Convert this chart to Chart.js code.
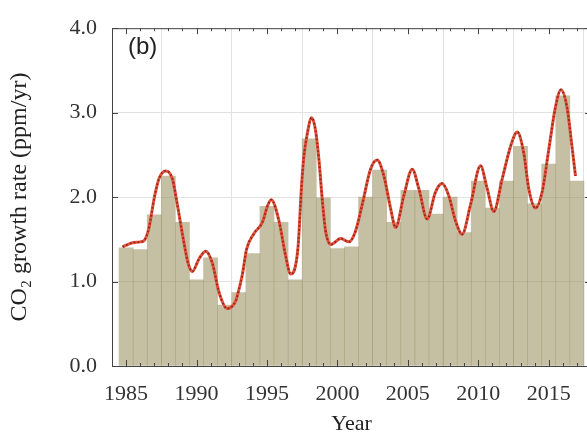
<!DOCTYPE html>
<html>
<head>
<meta charset="utf-8">
<script src="https://cdn.jsdelivr.net/npm/chart.js@4/dist/chart.umd.min.js"></script>
<style>
  body { margin: 0; overflow: hidden; background: #fff; }
  canvas { display: block; }
</style>
</head>
<body>
<canvas id="growth" width="600" height="435"></canvas>
<script>
// annual growth rate (bars)
let years = [1985, 1986, 1987, 1988, 1989, 1990, 1991, 1992, 1993, 1994, 1995, 1996,
    1997, 1998, 1999, 2000, 2001, 2002, 2003, 2004, 2005, 2006, 2007, 2008, 2009,
    2010, 2011, 2012, 2013, 2014, 2015, 2016, 2017];
let annualRate = [1.40, 1.38, 1.79, 2.25, 1.70, 1.02, 1.28, 0.72, 0.87, 1.33, 1.89, 1.70,
    1.02, 2.69, 1.99, 1.39, 1.41, 2.00, 2.32, 1.70, 2.08, 2.08, 1.80, 2.00, 1.58,
    2.19, 1.87, 2.19, 2.60, 1.92, 2.39, 3.20, 2.19];

// smoothed growth rate (curve)
let curveTime = [1984.75, 1985.0, 1985.45, 1986.0, 1986.3, 1986.63, 1987.0, 1987.34, 1987.8,
    1988.28, 1988.64, 1989.0, 1989.4, 1989.7, 1990.18, 1990.65, 1991.12, 1991.6, 1992.18,
    1992.78, 1993.0, 1993.25, 1993.55, 1994.08, 1994.67, 1995.05, 1995.3, 1995.85, 1996.33,
    1996.68, 1997.2, 1997.45, 1997.6, 1997.86, 1998.17, 1998.45, 1998.69, 1998.92, 1999.16,
    1999.55, 2000.23, 2000.82, 2001.29, 2001.76, 2002.35, 2002.82, 2003.3, 2003.77, 2004.13,
    2004.72, 2005.31, 2005.78, 2006.37, 2006.96, 2007.43, 2007.9, 2008.38, 2008.85, 2009.45,
    2010.16, 2010.63, 2011.1, 2011.69, 2012.29, 2012.76, 2013.23, 2013.58, 2014.06, 2014.53,
    2015.0, 2015.47, 2015.87, 2016.3, 2016.65, 2016.9];
let curveRate = [1.41, 1.43, 1.46, 1.47, 1.49, 1.64, 1.99, 2.22, 2.31,
    2.22, 1.91, 1.56, 1.22, 1.12, 1.27, 1.36, 1.22, 0.87, 0.68,
    0.77, 0.90, 1.08, 1.38, 1.57, 1.70, 1.90, 1.97, 1.72, 1.30,
    1.09, 1.40, 2.12, 2.45, 2.75, 2.94, 2.79, 2.44, 1.98, 1.60,
    1.44, 1.51, 1.47, 1.60, 1.91, 2.33, 2.44, 2.25, 1.87, 1.64,
    2.02, 2.33, 2.10, 1.74, 2.06, 2.16, 2.02, 1.72, 1.56, 1.91,
    2.37, 2.10, 1.83, 2.21, 2.60, 2.77, 2.52, 2.10, 1.87, 2.06,
    2.56, 3.06, 3.27, 3.06, 2.60, 2.25];

let yTicks = [0, 1, 2, 3, 4];
let xTicks = [1985, 1990, 1995, 2000, 2005, 2010, 2015];

let barPoints = years.map(function (y, i) { return { x: y, y: annualRate[i] }; });
let curvePoints = curveTime.map(function (t, i) { return { x: t, y: curveRate[i] }; });

let serif = "'Liberation Serif', 'Times New Roman', serif";

// frame, inward tick marks and panel letter
let frame = {
    id: 'frame',
    afterDraw: function (chart) {
        let ctx = chart.ctx;
        let a = chart.chartArea;
        let xs = chart.scales.x;
        let ys = chart.scales.y;
        ctx.save();
        ctx.strokeStyle = '#444';
        ctx.lineWidth = 1;
        ctx.beginPath();
        ctx.moveTo(a.left + 0.5, a.top + 0.5);
        ctx.lineTo(a.right + 0.5, a.top + 0.5);
        ctx.lineTo(a.right + 0.5, a.bottom + 0.5);
        ctx.lineTo(a.left + 0.5, a.bottom + 0.5);
        ctx.closePath();
        for (let yr = 1984; yr <= 2018; yr++) {
            let len = (yr % 5 == 0) ? 6 : 3;
            let px = Math.round(xs.getPixelForValue(yr)) + 0.5;
            ctx.moveTo(px, a.bottom);
            ctx.lineTo(px, a.bottom - len);
            ctx.moveTo(px, a.top);
            ctx.lineTo(px, a.top + len);
        }
        yTicks.forEach(function (v) {
            let py = Math.round(ys.getPixelForValue(v)) + 0.5;
            ctx.moveTo(a.left, py);
            ctx.lineTo(a.left + 6, py);
            ctx.moveTo(a.right, py);
            ctx.lineTo(a.right - 6, py);
        });
        ctx.stroke();

        ctx.fillStyle = '#222';
        ctx.font = "24px 'Liberation Sans', Arial, sans-serif";
        ctx.textBaseline = 'middle';
        ctx.fillText('(b)', 128, 47);
        ctx.restore();
    }
};

new Chart(document.getElementById('growth'), {
    type: 'bar',
    data: {
        datasets: [
            {
                type: 'line',
                data: curvePoints,
                borderColor: '#8a2a1c',
                borderWidth: 2,
                borderDash: [1.6, 2.4],
                pointRadius: 0,
                cubicInterpolationMode: 'monotone',
                order: 1
            },
            {
                type: 'line',
                data: curvePoints,
                borderColor: '#e4503a',
                borderWidth: 3,
                pointRadius: 0,
                cubicInterpolationMode: 'monotone',
                order: 2
            },
            {
                data: barPoints,
                backgroundColor: 'rgba(150, 138, 90, 0.55)',
                borderWidth: 0,
                barPercentage: 1,
                categoryPercentage: 1,
                order: 3
            }
        ]
    },
    options: {
        responsive: false,
        animation: false,
        devicePixelRatio: 1,
        layout: { padding: { top: 18, right: 9, left: 0, bottom: 0 } },
        plugins: {
            legend: { display: false },
            tooltip: { enabled: false }
        },
        scales: {
            x: {
                type: 'linear',
                min: 1984,
                max: 2018,
                offset: false,
                afterBuildTicks: function (scale) {
                    scale.ticks = xTicks.map(function (v) { return { value: v }; });
                },
                afterFit: function (scale) { scale.height = 69; },
                grid: { color: '#e2e2e2', drawTicks: false },
                border: { display: false },
                ticks: {
                    padding: 15,
                    color: '#333',
                    font: { family: serif, size: 22 },
                    callback: function (v) { return String(v); }
                },
                title: {
                    display: true,
                    text: 'Year',
                    color: '#222',
                    font: { family: serif, size: 22 },
                    padding: { top: 0, bottom: -2 }
                }
            },
            y: {
                min: 0,
                max: 4,
                afterBuildTicks: function (scale) {
                    scale.ticks = yTicks.map(function (v) { return { value: v }; });
                },
                afterFit: function (scale) { scale.width = 112; },
                grid: { color: '#e2e2e2', drawTicks: false },
                border: { display: false },
                ticks: {
                    padding: 15,
                    color: '#333',
                    font: { family: serif, size: 22 },
                    callback: function (v) { return v.toFixed(1); }
                },
                title: {
                    display: true,
                    text: 'CO₂ growth rate (ppm/yr)',
                    color: '#222',
                    font: { family: serif, size: 24 },
                    padding: { top: 5, bottom: 0 }
                }
            }
        }
    },
    plugins: [frame]
});
</script>
</body>
</html>
